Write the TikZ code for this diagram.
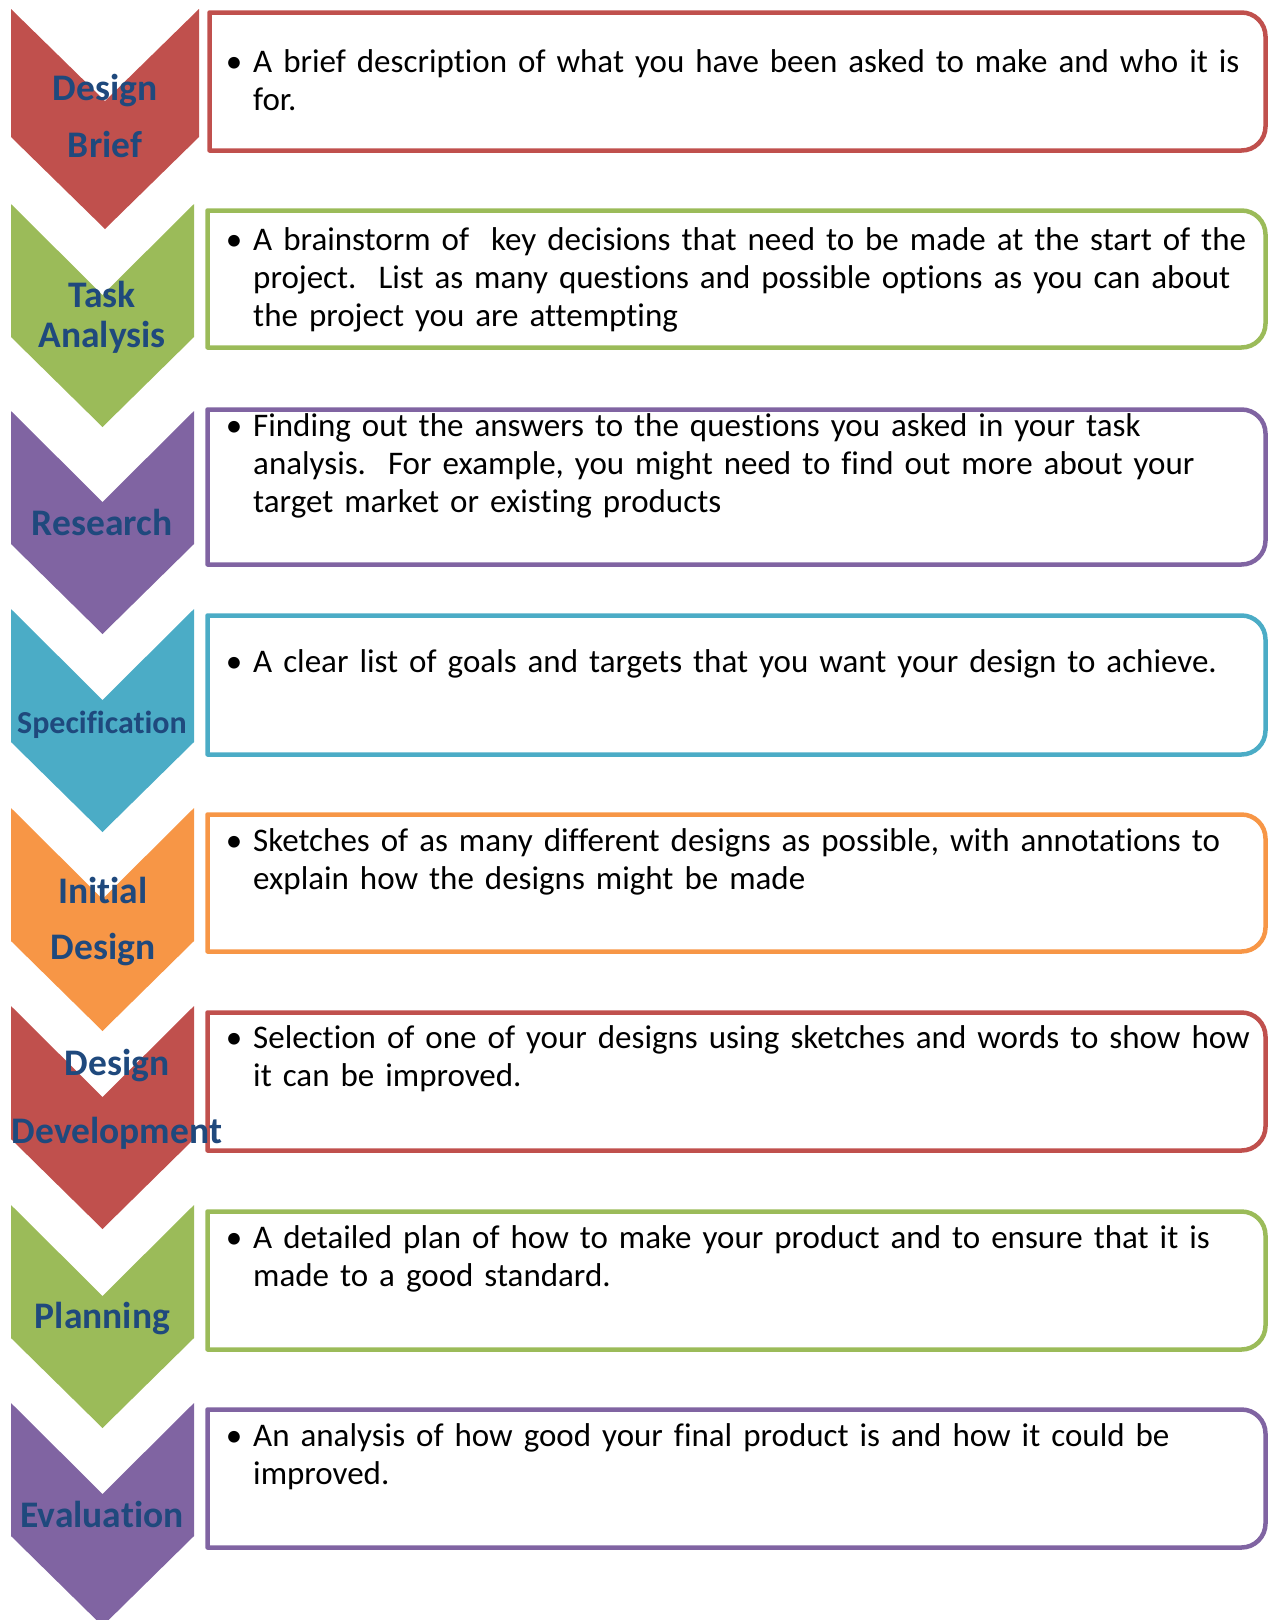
\documentclass[tikz,border=0pt]{standalone}
\usepackage{fontspec}
\setmainfont{Carlito}[Ligatures=NoCommon]
\usepackage{tikz}
\usepackage{xcolor}
\definecolor{stagered}{HTML}{C0504D}
\definecolor{stagegreen}{HTML}{9BBB59}
\definecolor{stagepurple}{HTML}{8064A2}
\definecolor{stageaqua}{HTML}{4BACC6}
\definecolor{stageorange}{HTML}{F79646}
\definecolor{labelblue}{HTML}{1F497D}

\begin{document}
\begin{tikzpicture}[x=1pt,y=1pt,
  stagebox/.style={line width=4.5pt,line join=round},
  stagelabel/.style={anchor=base,text width=240pt,align=center,inner sep=0pt,
    text=labelblue,font=\bfseries\fontsize{37.5}{57}\selectfont},
  stagetext/.style={anchor=base west,text width=1010pt,align=left,inner sep=0pt,
    font=\fontsize{33}{38}\selectfont}]
\useasboundingbox (0,0) rectangle (1269,-1620);
% text boxes, square on the left, rounded on the right
\draw [stagebox,draw=stagered] (209.5,-12.5) -- (1241.5,-12.5)
    arc [start angle=90,end angle=0,radius=24] -- (1265.5,-126.5)
    arc [start angle=0,end angle=-90,radius=24] -- (209.5,-150.5) -- cycle;
\draw [stagebox,draw=stagegreen] (207.5,-210.5) -- (1241.5,-210.5)
    arc [start angle=90,end angle=0,radius=24] -- (1265.5,-323.5)
    arc [start angle=0,end angle=-90,radius=24] -- (207.5,-347.5) -- cycle;
\draw [stagebox,draw=stagepurple] (207.5,-409.5) -- (1241.5,-409.5)
    arc [start angle=90,end angle=0,radius=24] -- (1265.5,-540.5)
    arc [start angle=0,end angle=-90,radius=24] -- (207.5,-564.5) -- cycle;
\draw [stagebox,draw=stageaqua] (207.5,-615.5) -- (1241.5,-615.5)
    arc [start angle=90,end angle=0,radius=24] -- (1265.5,-730.5)
    arc [start angle=0,end angle=-90,radius=24] -- (207.5,-754.5) -- cycle;
\draw [stagebox,draw=stageorange] (207.5,-814.5) -- (1241.5,-814.5)
    arc [start angle=90,end angle=0,radius=24] -- (1265.5,-927.5)
    arc [start angle=0,end angle=-90,radius=24] -- (207.5,-951.5) -- cycle;
\draw [stagebox,draw=stagered] (207.5,-1012.5) -- (1241.5,-1012.5)
    arc [start angle=90,end angle=0,radius=24] -- (1265.5,-1126.5)
    arc [start angle=0,end angle=-90,radius=24] -- (207.5,-1150.5) -- cycle;
\draw [stagebox,draw=stagegreen] (207.5,-1211.5) -- (1241.5,-1211.5)
    arc [start angle=90,end angle=0,radius=24] -- (1265.5,-1325.5)
    arc [start angle=0,end angle=-90,radius=24] -- (207.5,-1349.5) -- cycle;
\draw [stagebox,draw=stagepurple] (207.5,-1409.5) -- (1241.5,-1409.5)
    arc [start angle=90,end angle=0,radius=24] -- (1265.5,-1523.5)
    arc [start angle=0,end angle=-90,radius=24] -- (207.5,-1547.5) -- cycle;
% chevrons
\fill [stagered] (11,-9) -- ++(94,-92) -- ++(94,92) -- ++(0,-128) -- ++(-94,-92) -- ++(-94,92) -- cycle;
\fill [stagegreen] (11,-204) -- ++(91.5,-91) -- ++(91.5,91) -- ++(0,-133) -- ++(-91.5,-90) -- ++(-91.5,90) -- cycle;
\fill [stagepurple] (11,-411) -- ++(91.5,-91) -- ++(91.5,91) -- ++(0,-133) -- ++(-91.5,-90) -- ++(-91.5,90) -- cycle;
\fill [stageaqua] (11,-609) -- ++(91.5,-91) -- ++(91.5,91) -- ++(0,-133) -- ++(-91.5,-90) -- ++(-91.5,90) -- cycle;
\fill [stageorange] (11,-808) -- ++(91.5,-91) -- ++(91.5,91) -- ++(0,-133) -- ++(-91.5,-90) -- ++(-91.5,90) -- cycle;
\fill [stagered] (11,-1006) -- ++(91.5,-91) -- ++(91.5,91) -- ++(0,-133) -- ++(-91.5,-90) -- ++(-91.5,90) -- cycle;
\fill [stagegreen] (11,-1205) -- ++(91.5,-91) -- ++(91.5,91) -- ++(0,-133) -- ++(-91.5,-90) -- ++(-91.5,90) -- cycle;
\fill [stagepurple] (11,-1403) -- ++(91.5,-91) -- ++(91.5,91) -- ++(0,-133) -- ++(-91.5,-90) -- ++(-91.5,90) -- cycle;
% stage names
\path
    (105,-100) node [stagelabel] (brief) {Design\\Brief}
    (102,-307) node [stagelabel,font=\bfseries\fontsize{37.5}{40}\selectfont] (task) {Task\\Analysis}
    (102,-535) node [stagelabel] (research) {Research}
    (102,-733) node [stagelabel,font=\bfseries\fontsize{32}{40}\selectfont] (spec) {Specification}
    (103,-903) node [stagelabel,font=\bfseries\fontsize{37.5}{56}\selectfont] (initial) {Initial\\Design}
    (117,-1075) node [stagelabel,font=\bfseries\fontsize{37.5}{68}\selectfont] (develop) {Design\\Development}
    (102.5,-1328) node [stagelabel] (planning) {Planning}
    (102,-1527) node [stagelabel] (evaluation) {Evaluation};
% descriptions
\path
    (253,-72) node [stagetext] (brieftext)
      {\llap{•\hspace{11pt}}A brief description of what you have been asked to make and who it is\\for.}
    (253,-250) node [stagetext] (tasktext)
      {\llap{•\hspace{11pt}}A brainstorm of\ \ key decisions that need to be made at the start of the\\project.\ \ List as many questions and possible options as you can about\\the project you are attempting}
    (253,-436) node [stagetext] (researchtext)
      {\llap{•\hspace{11pt}}Finding out the answers to the questions you asked in your task\\analysis.\ \ For example, you might need to find out more about your\\target market or existing products}
    (253,-672) node [stagetext] (spectext)
      {\llap{•\hspace{11pt}}A clear list of goals and targets that you want your design to achieve.}
    (253,-851) node [stagetext] (initialtext)
      {\llap{•\hspace{11pt}}Sketches of as many different designs as possible, with annotations to\\explain how the designs might be made}
    (253,-1048) node [stagetext] (developtext)
      {\llap{•\hspace{11pt}}Selection of one of your designs using sketches and words to show how\\it can be improved.}
    (253,-1248) node [stagetext] (planningtext)
      {\llap{•\hspace{11pt}}A detailed plan of how to make your product and to ensure that it is\\made to a good standard.}
    (253,-1446) node [stagetext] (evaluationtext)
      {\llap{•\hspace{11pt}}An analysis of how good your final product is and how it could be\\improved.};
\end{tikzpicture}
\end{document}
